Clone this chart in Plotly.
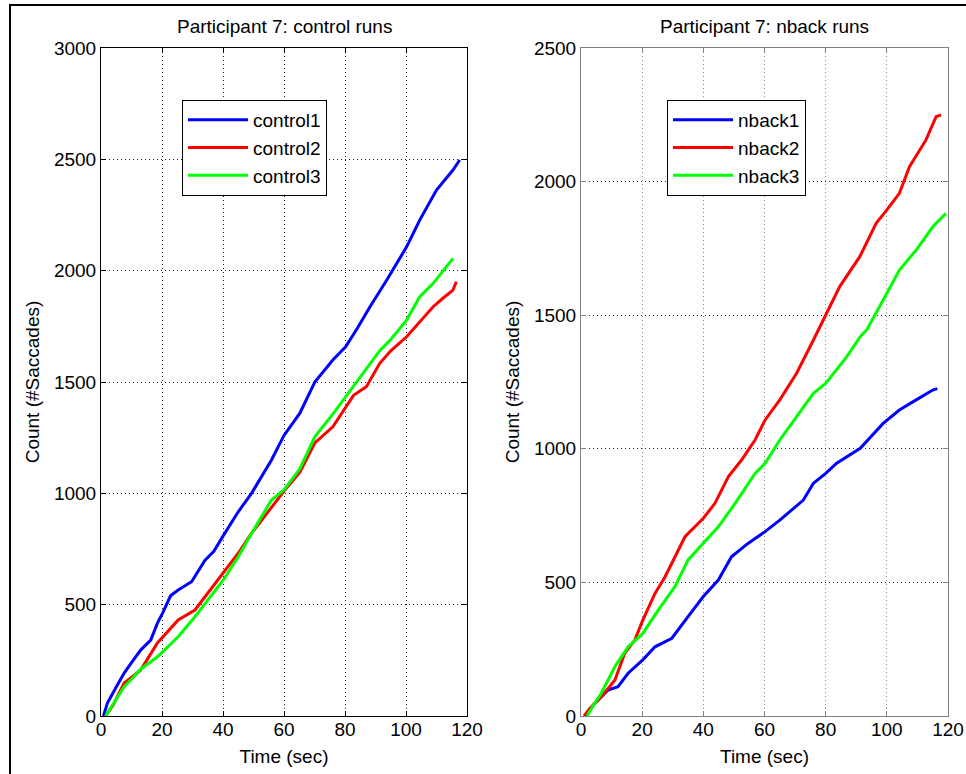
import plotly.graph_objects as go

W, H = 966, 774

# ---- data (time in sec, cumulative saccade count) ----
c1_t = [0.8, 2.1, 5, 7.6, 10, 13, 16.3, 18.5, 20.2, 22.8, 25.3, 29.7, 34.1, 37, 40.1, 45, 49.4, 55.9, 60, 65.2, 70.1, 76, 80.2, 84, 88.2, 93.7, 100.2, 104.5, 110, 115.4, 117.6]
c1_v = [0, 58, 130, 193, 240, 296, 341, 417, 462, 540, 566, 603, 700, 740, 810, 917, 1001, 1150, 1260, 1360, 1500, 1599, 1658, 1740, 1838, 1958, 2107, 2227, 2362, 2452, 2497]

c2_t = [1.5, 4, 7.6, 10, 13, 18.5, 25.3, 30.8, 35.1, 40.1, 45, 49.4, 55.9, 60, 65.2, 70.1, 76, 80.2, 82.8, 87, 91.4, 95, 100.2, 104.5, 108.9, 112, 115.4, 116.5]
c2_v = [0, 50, 148, 175, 206, 328, 431, 476, 552, 642, 731, 821, 940, 1010, 1095, 1226, 1299, 1385, 1440, 1479, 1584, 1640, 1703, 1770, 1838, 1875, 1913, 1950]

c3_t = [1.5, 4, 7.6, 10, 13, 18.5, 25.3, 30.8, 35.1, 40.1, 45, 49.4, 55.9, 60, 65.2, 70.1, 76.2, 80, 86.5, 91.5, 94.8, 100.2, 104.5, 108.9, 115.4]
c3_v = [0, 55, 132, 165, 210, 266, 356, 446, 521, 611, 715, 821, 970, 1015, 1110, 1254, 1359, 1430, 1555, 1643, 1688, 1778, 1883, 1943, 2055]

n1_t = [1.5, 4.5, 8.8, 12.1, 15.4, 20.2, 24.2, 29.7, 35, 40, 44.9, 49.2, 54.6, 60.2, 65, 72.7, 76, 80, 83.6, 91.3, 98.8, 104.1, 109.6, 115, 116.5]
n1_v = [0, 48, 97, 110, 160, 210, 259, 291, 372, 447, 509, 596, 646, 690, 733, 808, 871, 908, 946, 1002, 1095, 1145, 1183, 1220, 1225]

n2_t = [1, 3, 6.7, 11.1, 14.3, 17.6, 20.2, 24.2, 27.5, 30.7, 34, 40, 43.8, 48.2, 52.5, 56.9, 60.2, 65, 70.5, 76, 80, 84.6, 91.2, 96.5, 100, 104.1, 107.4, 112.8, 116.1, 117.7]
n2_v = [0, 30, 72, 135, 235, 284, 359, 459, 521, 596, 671, 740, 796, 896, 958, 1033, 1108, 1183, 1283, 1407, 1500, 1607, 1720, 1844, 1894, 1956, 2056, 2156, 2243, 2250]

n3_t = [2, 4, 6.7, 11.1, 15.4, 20.2, 25.3, 30.7, 35, 40, 44.9, 50.4, 56.9, 60.2, 65, 70.5, 76, 80, 83.6, 86.9, 91.3, 93.4, 98.8, 104.1, 109.6, 115, 119.3]
n3_v = [0, 40, 86, 185, 259, 309, 397, 484, 584, 646, 708, 796, 908, 946, 1033, 1120, 1208, 1245, 1295, 1345, 1420, 1445, 1557, 1669, 1744, 1831, 1881]

x_ticks = [0, 20, 40, 60, 80, 100, 120]
left_yticks = [0, 500, 1000, 1500, 2000, 2500, 3000]
right_yticks = [0, 500, 1000, 1500, 2000, 2500]

BLUE, RED, GREEN = "#0000ff", "#ff0000", "#00ff00"
FONT = "Liberation Sans, Arial, sans-serif"
FS = 19

fig = go.Figure()
for t, v, name, col in [(c1_t, c1_v, "control1", BLUE), (c2_t, c2_v, "control2", RED), (c3_t, c3_v, "control3", GREEN)]:
    fig.add_trace(go.Scatter(x=t, y=v, mode="lines", name=name, line=dict(color=col, width=3),
                             xaxis="x", yaxis="y", legend="legend"))
for t, v, name, col in [(n1_t, n1_v, "nback1", BLUE), (n2_t, n2_v, "nback2", RED), (n3_t, n3_v, "nback3", GREEN)]:
    fig.add_trace(go.Scatter(x=t, y=v, mode="lines", name=name, line=dict(color=col, width=3),
                             xaxis="x2", yaxis="y2", legend="legend2"))

ydom = [1 - 716 / H, 1 - 48 / H]
DOT = "1px,3px"

def xax(dom, lc, gc, anchor):
    return dict(domain=dom, range=[0, 120], tickvals=x_ticks, ticks="inside", ticklen=5, anchor=anchor,
                tickcolor=lc, mirror="allticks", showline=True, linecolor=lc, linewidth=1,
                showgrid=True, gridcolor=gc, griddash=DOT, gridwidth=1, zeroline=False,
                tickfont=dict(family=FONT, size=FS, color="black"), automargin=False,
                ticklabelstandoff=-4,
                title=dict(text="Time (sec)", font=dict(family=FONT, size=FS, color="black"), standoff=10))

def yax(rng, tv, lc, gc, anchor):
    return dict(domain=ydom, range=rng, tickvals=tv, ticks="inside", ticklen=5, anchor=anchor,
                tickcolor=lc, mirror="allticks", showline=True, linecolor=lc, linewidth=1,
                showgrid=True, gridcolor=gc, griddash=DOT, gridwidth=1, zeroline=False,
                tickfont=dict(family=FONT, size=FS, color="black"), automargin=False,
                title=dict(text="Count (#Saccades)", font=dict(family=FONT, size=FS, color="black"), standoff=9))

legend_common = dict(bgcolor="white", bordercolor="black", borderwidth=1,
                     font=dict(family=FONT, size=FS, color="black"),
                     xanchor="left", yanchor="top", itemwidth=60, tracegroupgap=0)

fig.update_layout(
    width=W, height=H,
    margin=dict(l=0, r=0, t=0, b=0, pad=0, autoexpand=False),
    paper_bgcolor="white", plot_bgcolor="white",
    xaxis=xax([101 / W, 467 / W], "black", "#222222", "y"),
    yaxis=yax([0, 3000], left_yticks, "black", "#222222", "x"),
    xaxis2=xax([581 / W, 948 / W], "#808080", "#8a8a8a", "y2"),
    yaxis2=yax([0, 2500], right_yticks, "#808080", "#222222", "x2"),
    legend=dict(x=182 / W, y=1 - 100 / H, **legend_common),
    legend2=dict(x=667 / W, y=1 - 100 / H, **legend_common),
    annotations=[
        dict(text="Participant 7: control runs", x=284 / W, y=1 - 27 / H, xref="paper", yref="paper",
             showarrow=False, font=dict(family=FONT, size=FS, color="black"), xanchor="center", yanchor="middle"),
        dict(text="Participant 7: nback runs", x=764 / W, y=1 - 27 / H, xref="paper", yref="paper",
             showarrow=False, font=dict(family=FONT, size=FS, color="black"), xanchor="center", yanchor="middle"),
    ],
    shapes=[dict(type="rect", xref="paper", yref="paper", x0=10 / W, x1=1.02, y0=-0.02, y1=1 - 5 / H,
                 line=dict(color="black", width=2), fillcolor="rgba(0,0,0,0)", layer="above")],
)

fig.write_html("out.html")
